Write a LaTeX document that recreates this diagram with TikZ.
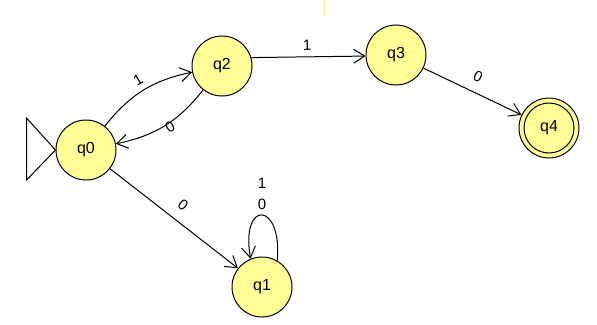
\documentclass[tikz,border=0pt]{standalone}
\usepackage{fontspec}
\setmainfont{Liberation Sans}
\usetikzlibrary{arrows.meta}
\definecolor{stfill}{RGB}{255,255,150}
\begin{document}
\begin{tikzpicture}[x=1pt,y=1pt,
  st/.style={circle,draw,line width=1pt,fill=stfill,minimum size=60pt,inner sep=0pt,font=\fontsize{16}{19}\selectfont},
  tr/.style={draw,line width=1pt,-{Straight Barb[length=11pt,width=14pt]}},
  lbl/.style={font=\fontsize{15}{17}\selectfont,inner sep=0pt}]
\useasboundingbox (0,0) rectangle (597,-324);
\draw[stfill, line width=2pt] (324,0) -- (324,-17);
\node[st] (q0) at (86,-150) {q0};
\node[st] (q2) at (222,-66) {q2};
\node[st] (q3) at (396,-55) {q3};
\node[st] (q4) at (549,-128) {q4};
\draw[line width=1pt] (q4.center) circle[radius=25];
\node[st] (q1) at (262,-287) {q1};
\draw[line width=1pt] (q0.west) -- ++(-29,32) -- ++(0,-62) -- cycle;
\draw[tr] (q0) to[bend left=20] (q2);
\draw[tr] (q2) to[bend left=20] (q0);
\draw[tr] (q2.16) -- (q3.182);
\draw[tr] (q3) -- (q4);
\draw[tr] (q0) -- (q1);
\draw[tr] (q1.60) .. controls +(85:60) and +(100:60) .. (q1.112);
\node[lbl,rotate=31] (l02) at (138,-80) {1};
\node[lbl,rotate=31] (l20) at (170,-127) {0};
\node[lbl,rotate=2] (l23) at (307,-45) {1};
\node[lbl,rotate=-25] (l34) at (478,-77) {0};
\node[lbl,rotate=-38] (l01) at (183,-205) {0};
\node[lbl] (l11a) at (262,-183) {1};
\node[lbl] (l11b) at (262,-204) {0};
\end{tikzpicture}
\end{document}
